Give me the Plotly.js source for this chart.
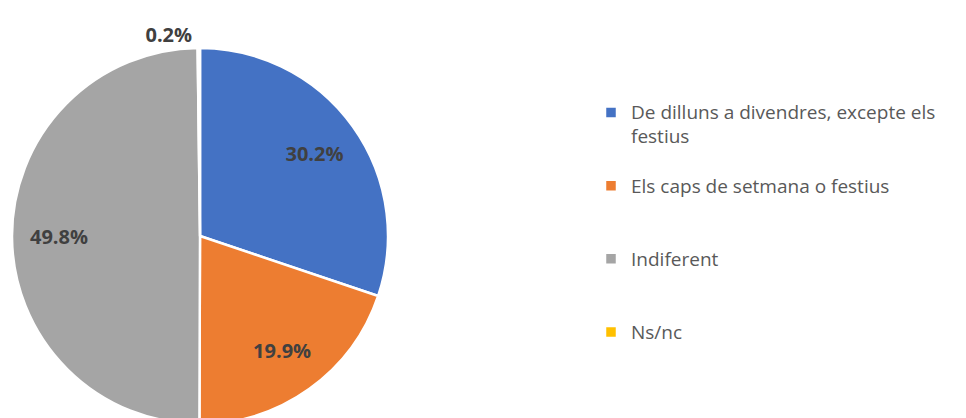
<!DOCTYPE html>
<html>
<head>
<meta charset="utf-8">
<script src="https://cdn.plot.ly/plotly-3.0.1.min.js"></script>
<style>
html, body { margin: 0; padding: 0; overflow: hidden; background: #fff; }
#chart { width: 966px; height: 440px; }
</style>
</head>
<body>
<div id="chart"></div>
<script>
const categories = [
  "De dilluns a divendres, excepte els festius",
  "Els caps de setmana o festius",
  "Indiferent",
  "Ns/nc"
];
// how each category is written in the legend (wrapping as in the original)
const legendLabels = [
  "De dilluns a divendres, excepte els<br>festius<br>\u00a0",
  "Els caps de setmana o festius<br>\u00a0<br>\u00a0",
  "Indiferent<br>\u00a0<br>\u00a0",
  "Ns/nc"
];
const values = [30.2, 19.9, 49.8, 0.2];
const percentLabels = ["30.2%", "19.9%", "49.8%", "0.2%"];
const sliceColors = ["#4472C4", "#ED7D31", "#A5A5A5", "#FFC000"];

const W = 966, H = 440;
const dom = { x: [12 / W, 388 / W], y: [0, 1] };
const styledLegend = legendLabels.map(s => '<span style="font-size:19px">' + s + '</span>');

// full pie: the slices and the legend
const pieTrace = {
  type: "pie",
  labels: styledLegend,
  values: values,
  textinfo: "none",
  sort: false,
  direction: "clockwise",
  rotation: 0,
  marker: { colors: sliceColors, line: { color: "#ffffff", width: 2.5 } },
  hoverinfo: "none",
  domain: dom
};

// transparent ring on top, only to carry the percentage labels out toward the rim
const labelTrace = {
  type: "pie",
  labels: styledLegend,
  values: values,
  hole: 0.5,
  text: percentLabels,
  textinfo: "text",
  textposition: ["inside", "inside", "inside", "outside"],
  insidetextorientation: "horizontal",
  sort: false,
  direction: "clockwise",
  rotation: 0,
  showlegend: false,
  marker: { colors: ["rgba(0,0,0,0)", "rgba(0,0,0,0)", "rgba(0,0,0,0)", "rgba(0,0,0,0)"], line: { width: 0 } },
  textfont: { family: "Open Sans", size: 20, color: "#404040", weight: "bold" },
  hoverinfo: "none",
  domain: dom
};

const layout = {
  width: W,
  height: H,
  margin: { l: 0, r: 0, t: 48, b: 16, pad: 0, autoexpand: false },
  paper_bgcolor: "#ffffff",
  showlegend: true,
  legend: {
    x: 591 / W,
    xanchor: "left",
    y: 0.877,
    yanchor: "top",
    valign: "top",
    font: { family: "Open Sans", size: 18, color: "#595959" },
    bgcolor: "rgba(0,0,0,0)"
  }
};

Plotly.newPlot("chart", [pieTrace, labelTrace], layout, { staticPlot: true });
</script>
</body>
</html>
